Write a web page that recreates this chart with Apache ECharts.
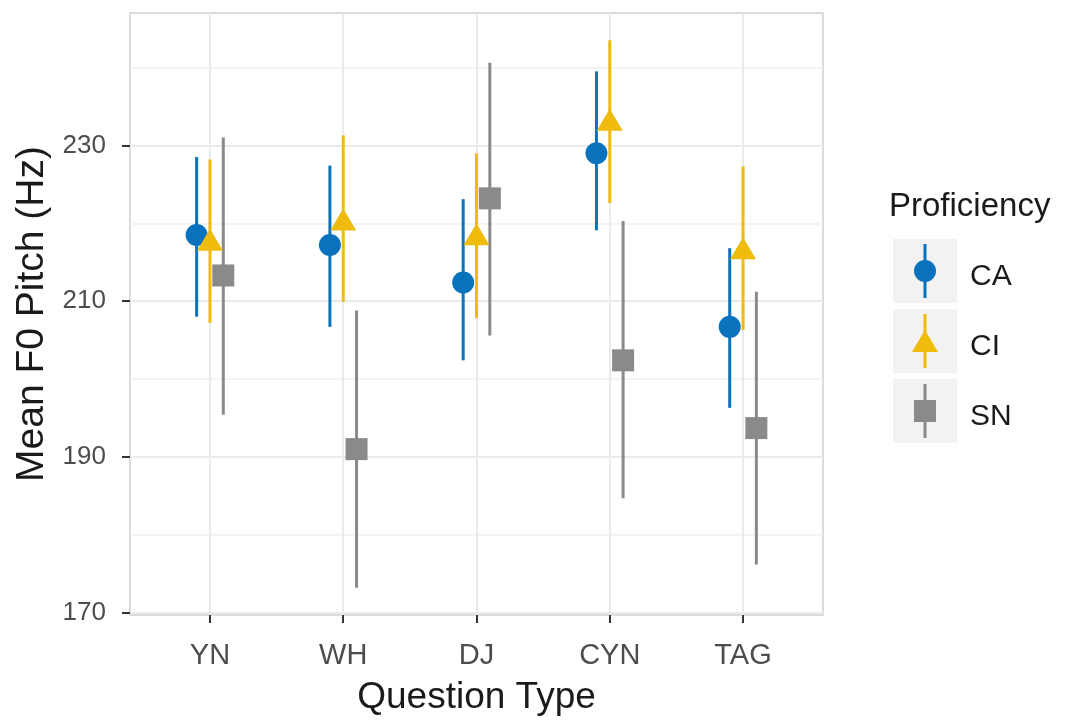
<!DOCTYPE html>
<html>
<head>
<meta charset="utf-8">
<title>Mean F0 Pitch</title>
<script src="https://cdn.jsdelivr.net/npm/echarts@6/dist/echarts.min.js"></script>
<style>
	html, body { margin: 0; padding: 0; background: #fff; }
	#chart { width: 1074px; height: 726px; }
</style>
</head>
<body>
<div id="chart"></div>
<script>
// question types on the x axis
var categories = ['YN', 'WH', 'DJ', 'CYN', 'TAG'];
var groups = ['CA', 'CI', 'SN'];

// CA
var caMean = [218.5, 217.2, 212.4, 229.0, 206.7];
var caLow  = [208.0, 206.7, 202.4, 219.1, 196.3];
var caHigh = [228.5, 227.4, 223.1, 239.5, 216.8];
// CI
var ciMean = [217.9, 220.5, 218.6, 233.3, 216.8];
var ciLow  = [207.2, 209.9, 207.8, 222.6, 206.3];
var ciHigh = [228.2, 231.3, 229.0, 243.5, 227.3];
// SN
var snMean = [213.3, 191.0, 223.2, 202.4, 193.7];
var snLow  = [195.4, 173.2, 205.6, 184.7, 176.2];
var snHigh = [231.0, 208.8, 240.6, 220.3, 211.2];

var yTicks = [170, 190, 210, 230];
var yMinor = [180, 200, 220, 240];

var colors = { CA: '#0a72bd', CI: '#efbb0c', SN: '#8a8a8a' };
var dodge = { CA: -0.1, CI: 0, SN: 0.1 };
var symbols = { CA: 'circle', CI: 'triangle', SN: 'rect' };
var symbolSizes = { CA: 22, CI: [26, 22], SN: 22 };

var chart = echarts.init(document.getElementById('chart'));

//error bar: vertical segment from low to high
var barSeries = function(name, low, high) {
	var data = [];
	for (var i = 0; i < categories.length; i++) {
		data.push([i + 1 + dodge[name], low[i], high[i]]);
	}
	return {
		name: name,
		type: 'custom',
		data: data,
		silent: true,
		encode: { x: 0, y: [1, 2] },
		renderItem: function(params, api) {
			var a = api.coord([api.value(0), api.value(1)]);
			var b = api.coord([api.value(0), api.value(2)]);
			return {
				type: 'line',
				shape: { x1: a[0], y1: a[1], x2: b[0], y2: b[1] },
				style: { stroke: colors[name], lineWidth: 3 }
			};
		}
	};
};

var pointSeries = function(name, mean) {
	var data = [];
	for (var i = 0; i < categories.length; i++) {
		data.push([i + 1 + dodge[name], mean[i]]);
	}
	return {
		name: name,
		type: 'scatter',
		data: data,
		symbol: symbols[name],
		symbolSize: symbolSizes[name],
		itemStyle: { color: colors[name], opacity: 1 }
	};
};

// legend drawn by hand like ggplot keys
var legendItems = [];
legendItems.push({
	type: 'text', left: 889, top: 190,
	style: { text: 'Proficiency', fontSize: 33, fontFamily: 'Liberation Sans, Arial', fill: '#1a1a1a' }
});
var keyTop = [239, 309, 379];
for (var k = 0; k < groups.length; k++) {
	var g = groups[k];
	var cy = keyTop[k] + 32;
	legendItems.push({ type: 'rect', shape: { x: 893, y: keyTop[k], width: 64, height: 64 }, style: { fill: '#f2f2f2' } });
	legendItems.push({ type: 'line', shape: { x1: 925, y1: keyTop[k] + 5, x2: 925, y2: keyTop[k] + 59 }, style: { stroke: colors[g], lineWidth: 3 } });
	if (g == 'CA') {
		legendItems.push({ type: 'circle', shape: { cx: 925, cy: cy, r: 11 }, style: { fill: colors[g] } });
	} else if (g == 'CI') {
		legendItems.push({ type: 'polygon', shape: { points: [[925, cy - 11], [938, cy + 11], [912, cy + 11]] }, style: { fill: colors[g] } });
	} else {
		legendItems.push({ type: 'rect', shape: { x: 914, y: cy - 11, width: 22, height: 22 }, style: { fill: colors[g] } });
	}
	legendItems.push({
		type: 'text', left: 970, top: cy - 9,
		style: { text: g, fontSize: 30, fontFamily: 'Liberation Sans, Arial', fill: '#1a1a1a' }
	});
}

var option = {
	animation: false,
	backgroundColor: '#fff',
	grid: {
		left: 130, top: 13, width: 693, height: 602,
		show: true, borderColor: '#cfcfcf', borderWidth: 1.5, backgroundColor: '#fff'
	},
	xAxis: {
		type: 'value',
		min: 0.4,
		max: 5.6,
		name: 'Question Type',
		nameLocation: 'middle',
		nameGap: 64,
		nameTextStyle: { fontSize: 37, color: '#1a1a1a', fontFamily: 'Liberation Sans, Arial' },
		axisLine: { show: false },
		axisTick: { show: true, length: 8, customValues: [1, 2, 3, 4, 5], lineStyle: { color: '#333', width: 2 } },
		axisLabel: {
			customValues: [1, 2, 3, 4, 5],
			margin: 26,
			fontSize: 29,
			color: '#4d4d4d',
			fontFamily: 'Liberation Sans, Arial',
			formatter: function(v) { return categories[Math.round(v) - 1]; }
		},
		splitLine: { show: true, lineStyle: { color: '#ebebeb', width: 2 } }
	},
	yAxis: [{
		type: 'value',
		min: 169.7,
		max: 247,
		name: 'Mean F0 Pitch (Hz)',
		nameLocation: 'middle',
		nameGap: 76,
		nameTextStyle: { fontSize: 39, color: '#1a1a1a', fontFamily: 'Liberation Sans, Arial' },
		axisLine: { show: false },
		axisTick: { show: true, length: 8, customValues: yTicks, lineStyle: { color: '#333', width: 2 } },
		axisLabel: {
			customValues: yTicks,
			margin: 24,
			fontSize: 26,
			color: '#4d4d4d',
			fontFamily: 'Liberation Sans, Arial'
		},
		splitLine: { show: true, lineStyle: { color: '#ebebeb', width: 2 } }
	}, {
		// minor grid lines only
		type: 'value',
		min: 169.7,
		max: 247,
		position: 'left',
		axisLine: { show: false },
		axisTick: { show: false, customValues: yMinor },
		axisLabel: { show: false, customValues: yMinor },
		splitLine: { show: true, lineStyle: { color: '#f0f0f0', width: 1.5 } }
	}],
	graphic: legendItems,
	series: [
		barSeries('CA', caLow, caHigh),
		pointSeries('CA', caMean),
		barSeries('CI', ciLow, ciHigh),
		pointSeries('CI', ciMean),
		barSeries('SN', snLow, snHigh),
		pointSeries('SN', snMean)
	]
};

chart.setOption(option);
</script>
</body>
</html>
